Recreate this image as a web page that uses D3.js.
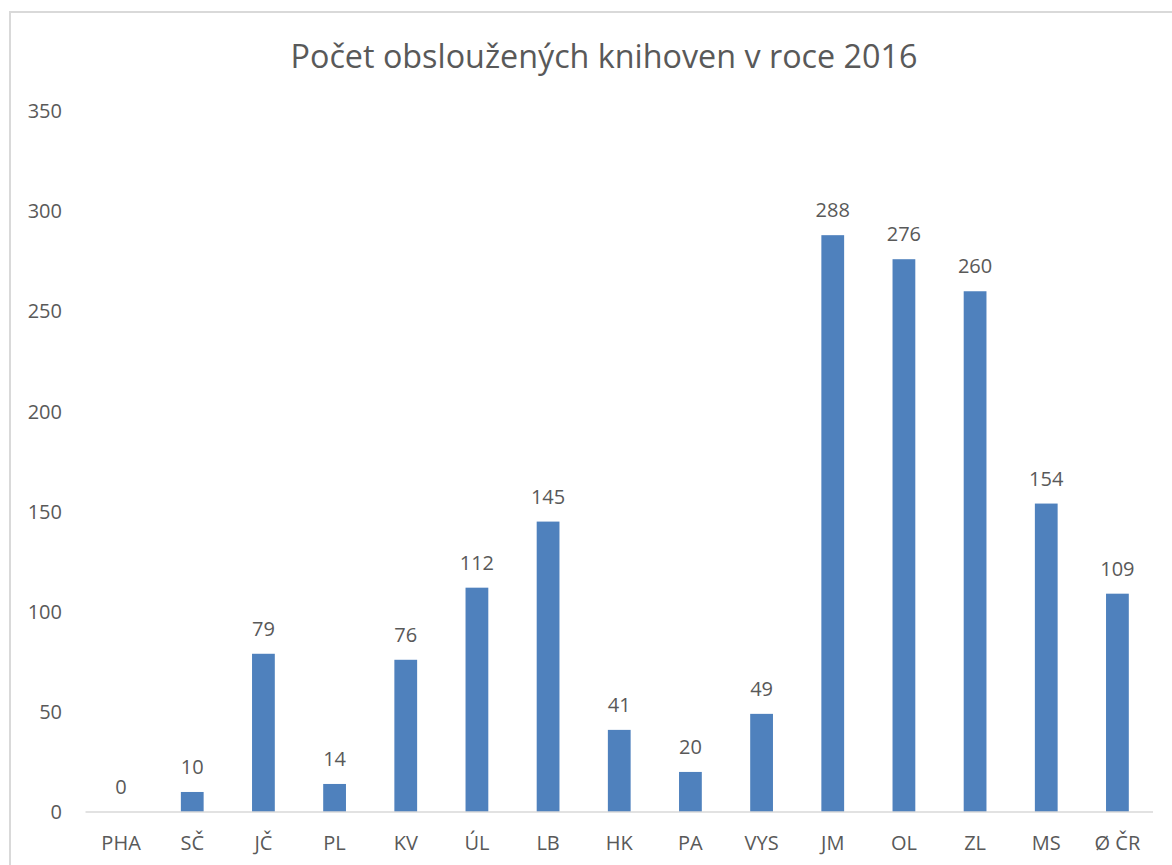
<!DOCTYPE html>
<html><head><meta charset="utf-8">
<script src="https://cdn.jsdelivr.net/npm/d3@7"></script>
<style>
html,body{margin:0;padding:0;background:#fff;}
text{font-family:"Open Sans","Noto Sans",sans-serif;fill:#595959;}
</style></head>
<body>
<script>
const title = "Počet obsloužených knihoven v roce 2016";
const categories = ["PHA","SČ","JČ","PL","KV","ÚL","LB","HK","PA","VYS","JM","OL","ZL","MS","Ø ČR"];
const values = [0,10,79,14,76,112,145,41,20,49,288,276,260,154,109];
const yTicks = [0,50,100,150,200,250,300,350];

const W = 1172, H = 865;
const svg = d3.select("body").append("svg").attr("width", W).attr("height", H);

svg.append("rect").attr("x",10).attr("y",12).attr("width",1200).attr("height",900)
  .attr("fill","#fff").attr("stroke","#d9d9d9").attr("stroke-width",2);

const x = d3.scaleBand().domain(categories).range([85.5,1153]).paddingInner(0.68).paddingOuter(0.34);
const y = d3.scaleLinear().domain([0,350]).range([812,111]);

// y axis labels
svg.append("g").selectAll("text").data(yTicks).join("text")
  .attr("x",62).attr("y",d=>y(d)).attr("dy","0.36em").attr("text-anchor","end")
  .attr("font-size",20).text(d=>d);

// bars
svg.append("g").selectAll("rect").data(values).join("rect")
  .attr("x",(d,i)=>x(categories[i])).attr("width",x.bandwidth())
  .attr("y",d=>y(d)).attr("height",d=>y(0)-y(d)).attr("fill","#4f81bd");

// baseline
svg.append("line").attr("x1",85.5).attr("x2",1153).attr("y1",y(0)).attr("y2",y(0))
  .attr("stroke","#d9d9d9").attr("stroke-width",1.5);

// data labels
svg.append("g").selectAll("text").data(values).join("text")
  .attr("x",(d,i)=>x(categories[i])+x.bandwidth()/2).attr("y",d=>y(d)-18)
  .attr("text-anchor","middle").attr("font-size",20).text(d=>d);

// x labels
svg.append("g").selectAll("text").data(categories).join("text")
  .attr("x",d=>x(d)+x.bandwidth()/2).attr("y",850)
  .attr("text-anchor","middle").attr("font-size",20).text(d=>d);

// title
const t = svg.append("text").attr("x",604).attr("y",68).attr("text-anchor","middle")
  .attr("font-size",28).text(title);
const len = t.node().getComputedTextLength();
t.attr("font-size", 28*627/len);
</script>
</body></html>
